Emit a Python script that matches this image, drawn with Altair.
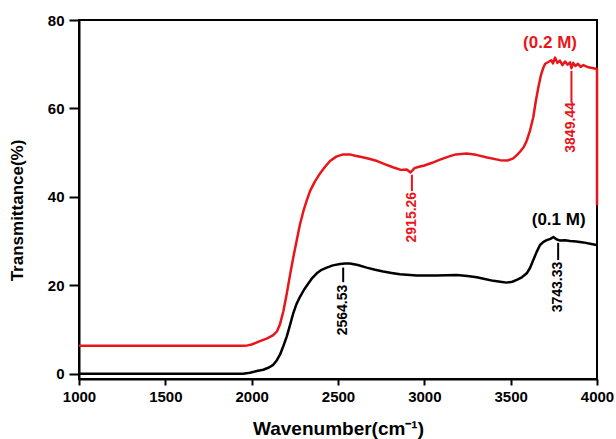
import altair as alt
import pandas as pd

# ---- data ----
red_wn = [1000, 1950, 1975, 2000, 2044, 2090, 2125, 2147, 2164, 2183, 2203, 2222, 2241, 2261, 2280,
          2299, 2320, 2338, 2365, 2396, 2425, 2454, 2490, 2529, 2568, 2600, 2636, 2680, 2727, 2770,
          2818, 2864, 2898, 2920, 2943, 2970, 3000, 3045, 3091, 3140, 3182, 3245, 3300, 3364, 3438,
          3480, 3515, 3540, 3554, 3575, 3593, 3612, 3631, 3645, 3660, 3675, 3689, 3700, 3718, 3735,
          3745, 3757, 3770, 3785, 3800, 3815, 3830, 3844, 3852, 3862, 3875, 3890, 3905, 3921, 3950,
          3979, 4000, 4000]
red_t = [6.3, 6.3, 6.4, 6.6, 7.3, 8.0, 8.7, 9.6, 11.2, 14.0, 18.0, 22.3, 26.3, 30.2, 33.8,
         36.7, 39.3, 41.3, 43.4, 45.3, 46.8, 48.1, 49.1, 49.6, 49.6, 49.3, 49.0, 48.6, 48.1, 47.4,
         46.7, 46.1, 46.2, 45.5, 46.5, 46.8, 47.1, 47.7, 48.4, 49.1, 49.6, 49.8, 49.5, 48.9, 48.3,
         48.2, 48.7, 49.6, 50.2, 51.2, 52.7, 55.0, 58.0, 61.5, 64.7, 67.5, 69.2, 70.1, 70.5, 70.9,
         70.2, 71.5, 70.3, 70.8, 69.8, 70.6, 69.9, 70.4, 69.1, 70.3, 69.6, 70.1, 69.4, 69.8, 69.3,
         69.1, 68.9, 38.1]

black_wn = [1000, 1950, 1990, 2030, 2067, 2100, 2125, 2145, 2164, 2183, 2203, 2222, 2241, 2260, 2280,
            2305, 2328, 2352, 2377, 2405, 2435, 2470, 2512, 2540, 2569, 2615, 2666, 2715, 2762, 2810,
            2859, 2956, 3072, 3187, 3250, 3303, 3350, 3400, 3440, 3477, 3510, 3535, 3565, 3593, 3612,
            3631, 3650, 3670, 3690, 3709, 3730, 3747, 3765, 3786, 3815, 3844, 3880, 3921, 3960, 3998]
black_t = [0.0, 0.0, 0.2, 0.6, 0.9, 1.4, 2.0, 3.0, 4.3, 6.2, 8.4, 11.0, 13.7, 15.8, 17.4,
           19.1, 20.4, 21.7, 22.7, 23.5, 24.0, 24.5, 24.8, 24.9, 24.9, 24.6, 24.0, 23.5, 23.1, 22.8,
           22.5, 22.2, 22.2, 22.3, 22.1, 21.8, 21.4, 21.0, 20.8, 20.6, 20.8, 21.2, 21.8, 22.7, 23.9,
           25.7, 27.5, 29.1, 29.8, 30.2, 30.5, 30.9, 30.4, 30.1, 30.2, 30.0, 29.9, 29.7, 29.4, 29.1]

peak_labels = ["2564.53", "2915.26", "3743.33", "3849.44"]
peak_x = [2530, 2928, 3775, 3852]
peak_line_top = [24.0, 45.0, 29.6, 68.5]
peak_line_bottom = [20.7, 41.3, 25.7, 61.3]
peak_text_y = [14.4, 35.4, 19.6, 55.7]
peak_series = ["0.1", "0.2", "0.1", "0.2"]

series_labels = ["(0.2 M)", "(0.1 M)"]
series_x = [3728, 3778]
series_y = [74.8, 34.7]
series_key = ["0.2", "0.1"]

x_ticks = [1000, 1500, 2000, 2500, 3000, 3500, 4000]
y_ticks = [0, 20, 40, 60, 80]

RED = "#e8161b"
BLACK = "#000000"
FONT = "Liberation Sans"

curves = pd.concat([
    pd.DataFrame({"wn": red_wn, "t": red_t, "s": "0.2", "i": range(len(red_wn))}),
    pd.DataFrame({"wn": black_wn, "t": black_t, "s": "0.1", "i": range(len(black_wn))}),
])
peaks = pd.DataFrame({"lab": peak_labels, "x": peak_x, "top": peak_line_top,
                      "bot": peak_line_bottom, "ty": peak_text_y, "s": peak_series})
slabs = pd.DataFrame({"lab": series_labels, "x": series_x, "y": series_y, "s": series_key})

xs = alt.Scale(domain=[1000, 4000], nice=False, zero=False)
ys = alt.Scale(domain=[-1.2, 80], nice=False, zero=False)
cs = alt.Scale(domain=["0.2", "0.1"], range=[RED, BLACK])

xaxis = alt.Axis(values=x_ticks, format="d", title="Wavenumber(cm⁻¹)", grid=False, tickSize=6,
                 tickWidth=2, domainWidth=2, domainColor=BLACK, tickColor=BLACK, labelFont=FONT,
                 labelFontSize=15, labelFontWeight="bold", labelColor=BLACK, labelPadding=4,
                 titleFont=FONT, titleFontSize=19, titleFontWeight="bold", titleColor=BLACK,
                 titleX=259, titleY=49, titleBaseline="middle", titleAlign="center",
                 labelFlush=False)
yaxis = alt.Axis(values=y_ticks, format="d", title="Transmittance(%)", grid=False, tickSize=10,
                 tickWidth=2, domainWidth=2, domainColor=BLACK, tickColor=BLACK, labelFont=FONT,
                 labelFontSize=15, labelFontWeight="bold", labelColor=BLACK, labelPadding=5,
                 titleFont=FONT, titleFontSize=17, titleFontWeight="bold", titleColor=BLACK,
                 titleX=-62, titleY=190, titleAngle=270, titleBaseline="middle",
                 titleAlign="center", labelFlush=False)

lines = alt.Chart(curves).mark_line(strokeWidth=2.5, strokeJoin="round").encode(
    x=alt.X("wn:Q", scale=xs, axis=xaxis),
    y=alt.Y("t:Q", scale=ys, axis=yaxis),
    color=alt.Color("s:N", scale=cs, legend=None),
    detail="s:N",
    order=alt.Order("i:Q"),
)

leaders = alt.Chart(peaks).mark_rule(strokeWidth=2).encode(
    x=alt.X("x:Q", scale=xs),
    y=alt.Y("top:Q", scale=ys),
    y2="bot:Q",
    color=alt.Color("s:N", scale=cs, legend=None),
)

ptext = alt.Chart(peaks).mark_text(angle=270, align="center", baseline="middle", font=FONT,
                                   fontSize=14, fontWeight="bold").encode(
    x=alt.X("x:Q", scale=xs),
    y=alt.Y("ty:Q", scale=ys),
    text="lab:N",
    color=alt.Color("s:N", scale=cs, legend=None),
)

stext = alt.Chart(slabs).mark_text(align="center", baseline="middle", font=FONT,
                                   fontSize=17, fontWeight="bold").encode(
    x=alt.X("x:Q", scale=xs),
    y=alt.Y("y:Q", scale=ys),
    text="lab:N",
    color=alt.Color("s:N", scale=cs, legend=None),
)

chart = alt.layer(lines, leaders, ptext, stext).properties(
    width=518, height=359,
    autosize=alt.AutoSizeParams(type="none"),
    padding={"left": 79, "top": 20, "right": 19, "bottom": 60},
    background="white",
).configure_view(stroke=BLACK, strokeWidth=2)

chart.save("out.html", embed_options={"renderer": "svg", "actions": False})
